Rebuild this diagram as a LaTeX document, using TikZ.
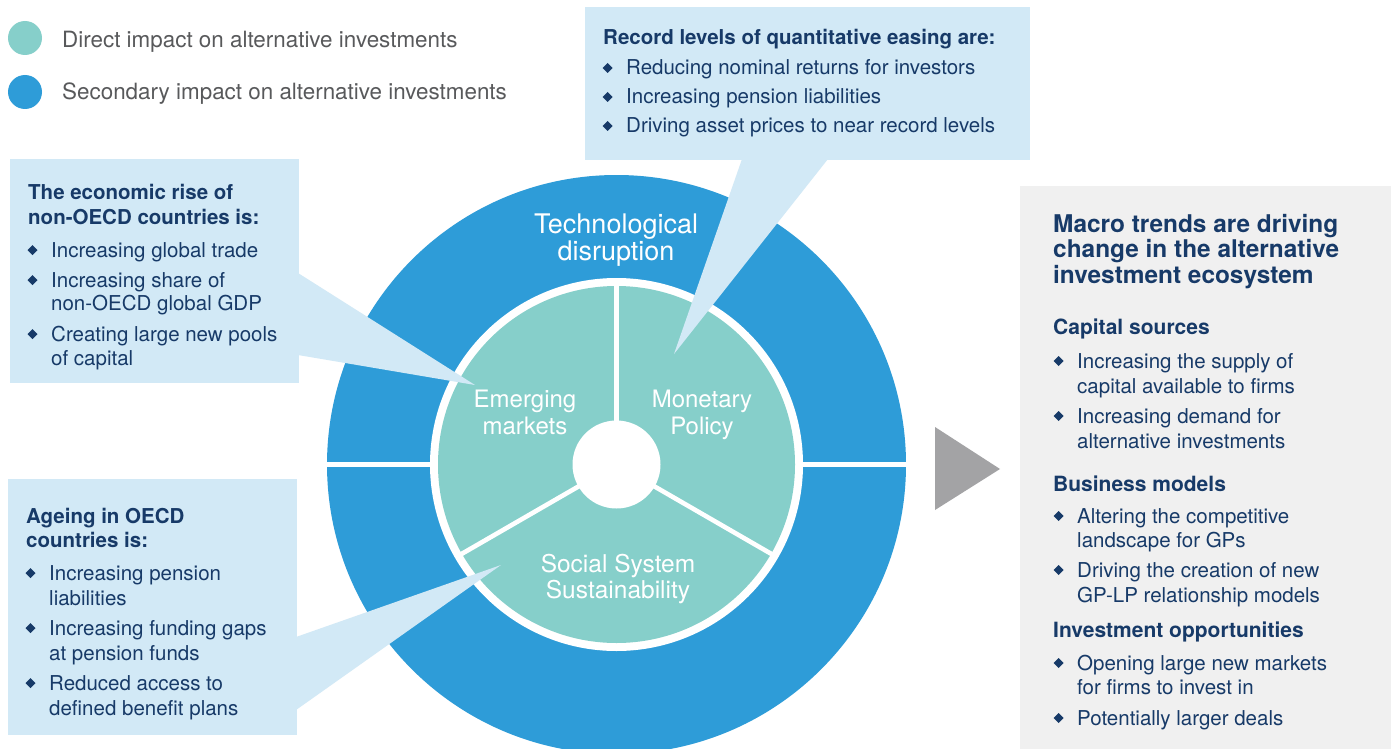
\documentclass[tikz,border=0pt]{standalone}
\usepackage{fontspec}
\setmainfont{TeX Gyre Heros}
\definecolor{teal1}{HTML}{86CFCA}
\definecolor{blue1}{HTML}{2E9CD8}
\definecolor{callout}{HTML}{D2E9F6}
\definecolor{graybox}{HTML}{F0F0F0}
\definecolor{arrowgray}{HTML}{A3A3A5}
\definecolor{navy}{HTML}{173A68}
\definecolor{legendgray}{HTML}{58595B}
\tikzset{
  body/.style={anchor=base west, inner sep=0pt, text=navy, font=\fontsize{20.5}{24}\selectfont},
  head/.style={anchor=base west, inner sep=0pt, text=navy, font=\fontsize{20.5}{24}\selectfont\bfseries},
  bighead/.style={anchor=base west, inner sep=0pt, text=navy, font=\fontsize{24.4}{27}\selectfont\bfseries},
  subhead/.style={anchor=base west, inner sep=0pt, text=navy, font=\fontsize{21}{24}\selectfont\bfseries},
  legendtext/.style={anchor=base west, inner sep=0pt, text=legendgray, font=\fontsize{22.4}{26}\selectfont},
  ringlabel/.style={anchor=base, inner sep=0pt, text=white, font=\fontsize{24}{27}\selectfont},
  techlabel/.style={anchor=base, inner sep=0pt, text=white, font=\fontsize{27}{30}\selectfont},
  boxshape/.style={anchor=north west, inner sep=0pt, outer sep=0pt},
  spoke/.style={white, line width=4.6pt},
}
\newcommand{\bitem}[4]{%
  \fill[navy] (#2-23.5,#3-7) -- ++(5,-5) -- ++(5,5) -- ++(-5,5) -- cycle;
  \node[body] (#1) at (#2,#3) {#4};}
\newcommand{\citem}[4]{\node[body] (#1) at (#2,#3) {#4};}
\begin{document}
\begin{tikzpicture}[x=1pt,y=-1pt]
\useasboundingbox (0,0) rectangle (1397,749);
\fill[white] (0,0) rectangle (1397,749);

% legend
\fill[teal1] (25,38) circle[radius=17pt];
\fill[blue1] (25,92) circle[radius=17pt];
\node[legendtext] (leg1) at (62,48) {Direct impact on alternative investments};
\node[legendtext] (leg2) at (62,100) {Secondary impact on alternative investments};

% ring diagram
\coordinate (c) at (616.5,464.5);
\fill[blue1] (c) circle[radius=289.5pt];
\draw[spoke] (318,464.5) -- (915,464.5);
\fill[white] (c) circle[radius=186.5pt];
\fill[teal1] (c) circle[radius=178.5pt];
\draw[spoke] (c) -- ++(0,-182);
\draw[spoke] (c) -- ++(-157.6,91);
\draw[spoke] (c) -- ++(157.6,91);
\fill[white] (c) circle[radius=44pt];

% right grey box and arrow
\node[boxshape, fill=graybox, minimum width=371pt, minimum height=563pt] (rbox) at (1020,186) {};
\fill[arrowgray] (935,427) -- (1000,469) -- (935,510) -- cycle;

% callouts
\node[boxshape, fill=callout, minimum width=445pt, minimum height=153pt] (qebox) at (585,7) {};
\fill[callout] (742,159) -- (828,159) -- (674,354) -- cycle;
\node[boxshape, fill=callout, minimum width=289pt, minimum height=224pt] (embox) at (10,159) {};
\fill[callout] (298,273) -- (298,355) -- (475,385) -- cycle;
\node[boxshape, fill=callout, minimum width=289pt, minimum height=256pt] (agbox) at (8,479) {};
\fill[callout] (296,637) -- (296,710) -- (501,565) -- cycle;

% ring labels
\node[techlabel] (tech1) at (616,233) {Technological};
\node[techlabel] (tech2) at (616,260) {disruption};
\node[ringlabel] (em1) at (525,407) {Emerging};
\node[ringlabel] (em2) at (525,434) {markets};
\node[ringlabel] (mp1) at (702,407) {Monetary};
\node[ringlabel] (mp2) at (702,434) {Policy};
\node[ringlabel, font=\fontsize{24.5}{27}\selectfont] (ss1) at (618,572) {Social System};
\node[ringlabel, font=\fontsize{24.5}{27}\selectfont] (ss2) at (618,598) {Sustainability};

% QE box text
\node[head] (qeh) at (603,45) {Record levels of quantitative easing are:};
\bitem{qe1}{626}{75}{Reducing nominal returns for investors}
\bitem{qe2}{626}{104}{Increasing pension liabilities}
\bitem{qe3}{626}{133}{Driving asset prices to near record levels}

% emerging box text
\node[head] (emh1) at (28,199) {The economic rise of};
\node[head] (emh2) at (28,224) {non-OECD countries is:};
\bitem{em1t}{51}{257}{Increasing global trade}
\bitem{em2t}{51}{287}{Increasing share of}
\citem{em2c}{51}{310}{non-OECD global GDP}
\bitem{em3t}{51}{341}{Creating large new pools}
\citem{em3c}{51}{365}{of capital}

% ageing box text
\node[head] (agh1) at (26,523) {Ageing in OECD};
\node[head] (agh2) at (26,547) {countries is:};
\bitem{ag1}{49}{580}{Increasing pension}
\citem{ag1c}{49}{605}{liabilities}
\bitem{ag2}{49}{635}{Increasing funding gaps}
\citem{ag2c}{49}{660}{at pension funds}
\bitem{ag3}{49}{690}{Reduced access to}
\citem{ag3c}{49}{715}{defined benefit plans}

% right box text
\node[bighead] (rh1) at (1053,232) {Macro trends are driving};
\node[bighead] (rh2) at (1053,257) {change in the alternative};
\node[bighead] (rh3) at (1053,283) {investment ecosystem};
\node[subhead] (cs) at (1053,334) {Capital sources};
\bitem{cs1}{1077}{368}{Increasing the supply of}
\citem{cs1c}{1077}{393}{capital available to firms}
\bitem{cs2}{1077}{423}{Increasing demand for}
\citem{cs2c}{1077}{448}{alternative investments}
\node[subhead] (bm) at (1053,491) {Business models};
\bitem{bm1}{1077}{523}{Altering the competitive}
\citem{bm1c}{1077}{547}{landscape for GPs}
\bitem{bm2}{1077}{577}{Driving the creation of new}
\citem{bm2c}{1077}{602}{GP-LP relationship models}
\node[subhead] (io) at (1053,637) {Investment opportunities};
\bitem{io1}{1077}{670}{Opening large new markets}
\citem{io1c}{1077}{694}{for firms to invest in}
\bitem{io2}{1077}{725}{Potentially larger deals}
\end{tikzpicture}
\end{document}
